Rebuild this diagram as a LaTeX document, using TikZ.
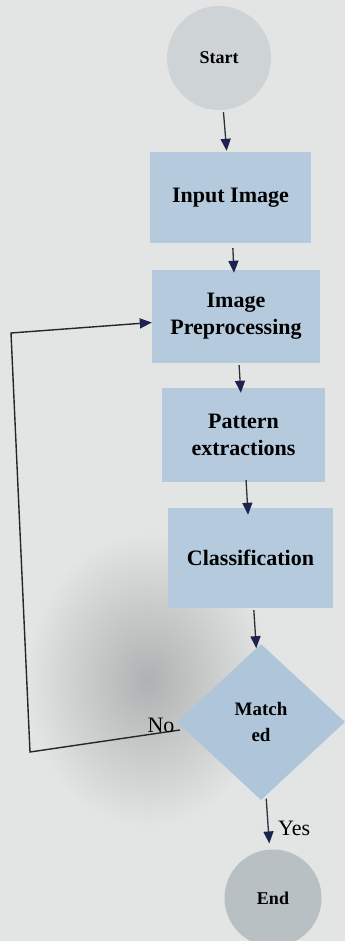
\documentclass[tikz,border=0pt]{standalone}
\usepackage{fontspec}
\setmainfont{Liberation Serif}
\usetikzlibrary{shapes.geometric,arrows.meta}

\definecolor{paper}{RGB}{226,229,228}
\definecolor{smudge}{RGB}{176,177,178}
\definecolor{boxblue}{RGB}{181,203,221}
\definecolor{diamblue}{RGB}{174,197,218}
\definecolor{startgray}{RGB}{206,211,213}
\definecolor{endgray}{RGB}{184,192,195}
\definecolor{tipnavy}{RGB}{28,36,78}
\definecolor{shaft}{RGB}{45,48,58}

\tikzset{
  procbox/.style={rectangle, fill=boxblue, inner sep=0pt, align=center,
    font=\fontsize{22}{27}\selectfont\bfseries},
  terminal/.style={circle, inner sep=0pt, align=center},
  decision/.style={diamond, fill=diamblue, inner sep=0pt, align=center,
    minimum width=168pt, minimum height=156pt,
    font=\fontsize{19}{26}\selectfont\bfseries},
  navytip/.style={-{Triangle[width=10pt,length=12pt,fill=tipnavy,color=tipnavy]}},
  flow/.style={draw=shaft, line width=1.3pt, navytip},
  loopline/.style={draw=black!85, line width=1.4pt, navytip},
  branch/.style={font=\fontsize{22}{24}\selectfont, inner sep=0pt}
}

\begin{document}
\begin{tikzpicture}[x=1pt,y=-1pt]
  % sheet and shadow
  \fill[paper] (0,0) rectangle (345,941);
  \useasboundingbox (0,0) rectangle (345,941);
  \shade[inner color=smudge, outer color=paper] (148,680) ellipse (122 and 148);

  % shapes
  \node[terminal, fill=startgray, minimum size=104pt,
        font=\fontsize{18}{20}\selectfont\bfseries] (start) at (219,58) {Start};
  \node[procbox, minimum width=161pt, minimum height=91pt] (input) at (230.5,197.5) {Input Image};
  \node[procbox, minimum width=168pt, minimum height=93pt] (pre) at (236,316.5) {Image\\Preprocessing};
  \node[procbox, minimum width=163pt, minimum height=94pt] (pat) at (243.5,435) {Pattern\\extractions};
  \node[procbox, minimum width=165pt, minimum height=100pt] (cls) at (250.5,558) {Classification};
  \node[decision] (match) at (261,722) {Match\\ed};
  \node[terminal, fill=endgray, minimum size=97pt,
        font=\fontsize{18}{20}\selectfont\bfseries] (end) at (273,898) {End};

  % main flow
  \draw[flow, shorten <=2pt, shorten >=1pt] (start) -- (input);
  \draw[flow, shorten <=5pt, shorten >=-3pt] (input) -- (pre);
  \draw[flow, shorten <=2pt, shorten >=-5pt] (pre) -- (pat);
  \draw[flow, shorten <=-2pt, shorten >=-7pt] (pat) -- (cls);
  \draw[flow, shorten <=2pt, shorten >=0pt] (cls) -- (match);
  \draw[flow, shorten <=3pt, shorten >=6pt] (match) -- (end);
  \node[branch, anchor=west] (yes) at (278,828) {Yes};

  % rejection loop back to preprocessing
  \coordinate (lowcorner) at (30,752);
  \coordinate (highcorner) at (11,333);
  \draw[loopline] ([shift={(3pt,-8pt)}]match.west) -- (lowcorner) -- (highcorner)
    -- ([yshift=-6pt]pre.west);
  \node[branch, anchor=south] (no) at (161,733) {No};
\end{tikzpicture}
\end{document}
